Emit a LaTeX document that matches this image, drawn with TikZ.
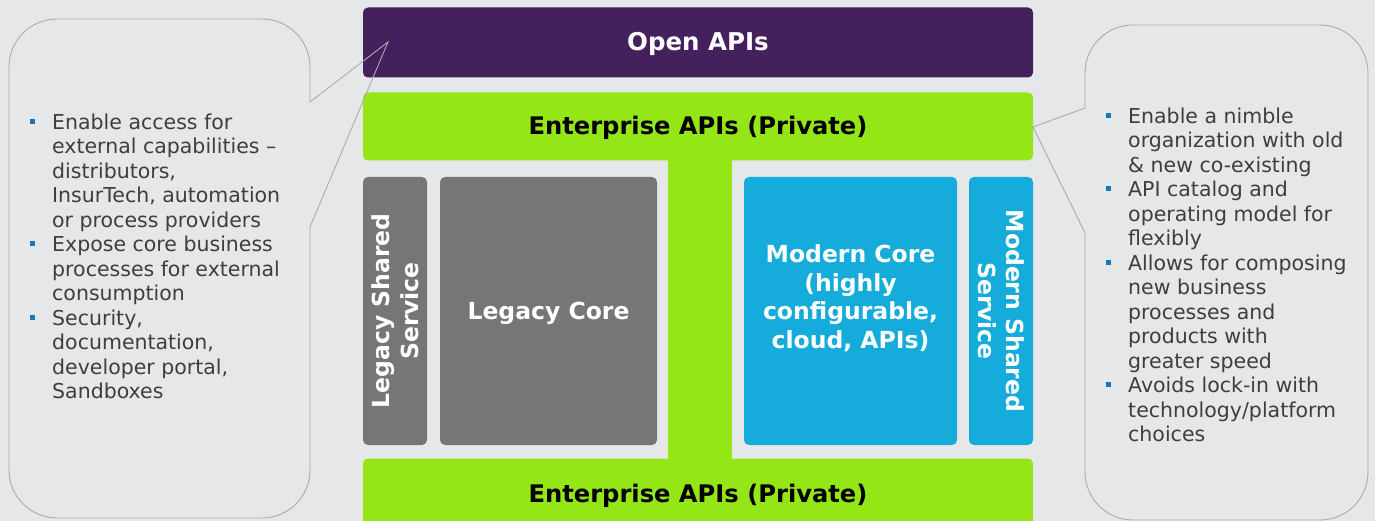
\documentclass[tikz,border=0pt]{standalone}
\usepackage{fontspec}
\setmainfont{DejaVu Sans}
\definecolor{bg}{HTML}{E6E7E9}
\definecolor{openpurple}{HTML}{44205D}
\definecolor{lime}{HTML}{95E617}
\definecolor{lgray}{HTML}{767676}
\definecolor{mblue}{HTML}{15ABDB}
\definecolor{bulblue}{HTML}{1B75BB}
\definecolor{txt}{HTML}{3E3E3E}
\definecolor{calline}{HTML}{ACACAC}
\newcommand{\bulletsq}{\llap{\textcolor{bulblue}{\rule[5.5pt]{5pt}{5pt}}\hspace{17pt}}}
\begin{document}
\begin{tikzpicture}[x=1pt,y=-1pt,
  box/.style={rectangle, rounded corners=5pt, inner sep=0pt, align=center,
    font=\bfseries\fontsize{23.5}{28.5}\selectfont},
  capbox/.style={box, text height=17pt, text depth=0pt},
  boxtext/.style={inner sep=0pt, align=center, font=\bfseries\fontsize{23.5}{28.5}\selectfont},
  callout/.style={draw=calline, line width=0.9pt},
  bultext/.style={inner sep=0pt, align=left, text=txt, font=\fontsize{20.5}{24.5}\selectfont},
  ]
\fill[bg] (0,0) rectangle (1375,521);
\useasboundingbox (0,0) rectangle (1375,521);
\clip (0,0) rectangle (1375,521);

% green structure
\fill[lime] (668,150) rectangle (732,468);
\node[capbox, fill=openpurple, text=white, minimum width=670pt, minimum height=70pt,
  font=\bfseries\fontsize{24.5}{28.5}\selectfont] (open) at (698,42.5) {Open APIs};
\node[capbox, fill=lime, text=black, minimum width=670pt, minimum height=68pt,
  font=\bfseries\fontsize{24.2}{28.5}\selectfont] (enttop) at (698,126.5) {Enterprise APIs (Private)};
\node[capbox, fill=lime, text=black, minimum width=670pt, minimum height=70pt,
  font=\bfseries\fontsize{24.2}{28.5}\selectfont] (entbot) at (698,493.5) {Enterprise APIs (Private)};

% cores
\node[box, fill=lgray, text=white, rotate=90, minimum width=268pt, minimum height=64pt] (lss) at (395,311) {Legacy Shared\\Service};
\node[capbox, fill=lgray, text=white, minimum width=217pt, minimum height=268pt] (lcore) at (548.5,311) {Legacy Core};
\node[box, fill=mblue, minimum width=213pt, minimum height=268pt] (mcore) at (850.5,311) {};
\node[boxtext, text=white] (mcoretext) at ([yshift=13pt]mcore.center) {Modern Core\\(highly\\configurable,\\cloud, APIs)};
\node[box, fill=mblue, text=white, rotate=-90, minimum width=268pt, minimum height=64pt] (mss) at (1001,311) {Modern Shared\\Service};

% callouts
\coordinate (ltip) at (388,42);
\coordinate (rtip) at (1033,127);
\draw[callout] (310,102) -- (ltip) -- (310,227);
\draw[callout, rounded corners=48pt] (310,102) -- (310,19) -- (9,19) -- (9,518) -- (310,518) -- (310,227);
\draw[callout] (1085,108) -- (rtip) -- (1085,233);
\draw[callout, rounded corners=48pt] (1085,108) -- (1085,25) -- (1368,25) -- (1368,520) -- (1085,520) -- (1085,233);

\node[bultext, anchor=base west] (ltext) at (52,398.5) {\bulletsq Enable access for\\external capabilities –\\distributors,\\InsurTech, automation\\or process providers\\\bulletsq Expose core business\\processes for external\\consumption\\\bulletsq Security,\\documentation,\\developer portal,\\Sandboxes};
\node[bultext, anchor=base west] (rtext) at (1128,441.5) {\bulletsq Enable a nimble\\organization with old\\\&{} new co-existing\\\bulletsq API catalog and\\operating model for\\flexibly\\\bulletsq Allows for composing\\new business\\processes and\\products with\\greater speed\\\bulletsq Avoids lock-in with\\technology/platform\\choices};
\end{tikzpicture}
\end{document}
